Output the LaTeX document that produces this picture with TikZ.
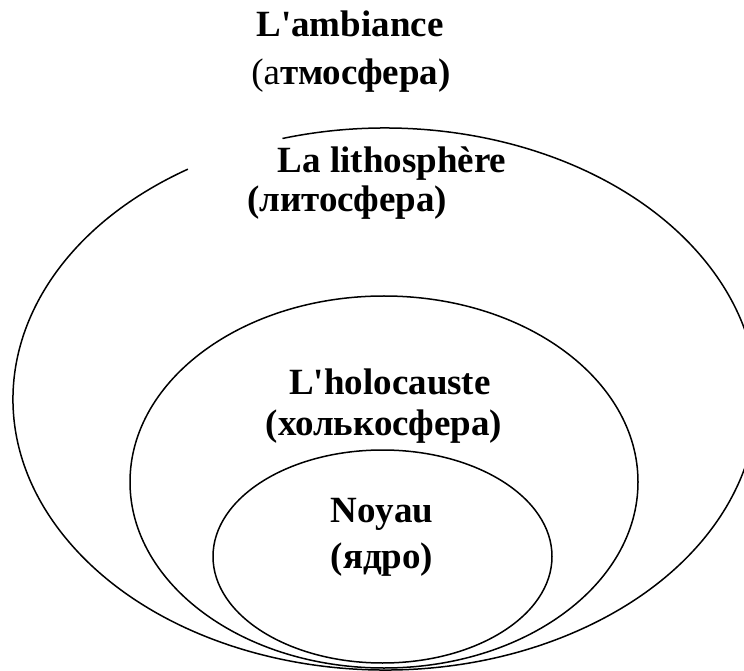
\documentclass[tikz,border=0pt]{standalone}
\usepackage{fontspec}
\setmainfont{Liberation Serif}[Ligatures=TeXOff]
\usepackage{tikz}

\begin{document}
\begin{tikzpicture}[x=1pt,y=1pt,
	shell/.style={line width=1.5pt},
	lbl/.style={anchor=base,inner sep=0pt,font=\fontsize{37}{44}\selectfont\bfseries}]
	\useasboundingbox (0,0) rectangle (744,670);
	\draw [shell] (385,271) ++(122:372 and 271) arc [start angle=122, end angle=466, x radius=372, y radius=271];
	\draw [shell] (384,188) ellipse [x radius=254, y radius=186];
	\draw [shell] (382.5,113.5) ellipse [x radius=169.5, y radius=106.5];
	\node [lbl] (amb) at (350,633) {L'ambiance};
	\node [lbl] (atm) at (351,585) {\mdseries(а\bfseries тмосфера)};
	\node [lbl] (lit) at (392,497) {La lithosphère};
	\node [lbl] (litru) at (347,458) {(литосфера)};
	\node [lbl] (hol) at (390,275) {L'holocauste};
	\node [lbl] (holru) at (384,235) {(холькосфера)};
	\node [lbl] (noy) at (382,148) {Noyau};
	\node [lbl] (noyru) at (382,102) {(ядро)};
\end{tikzpicture}
\end{document}
